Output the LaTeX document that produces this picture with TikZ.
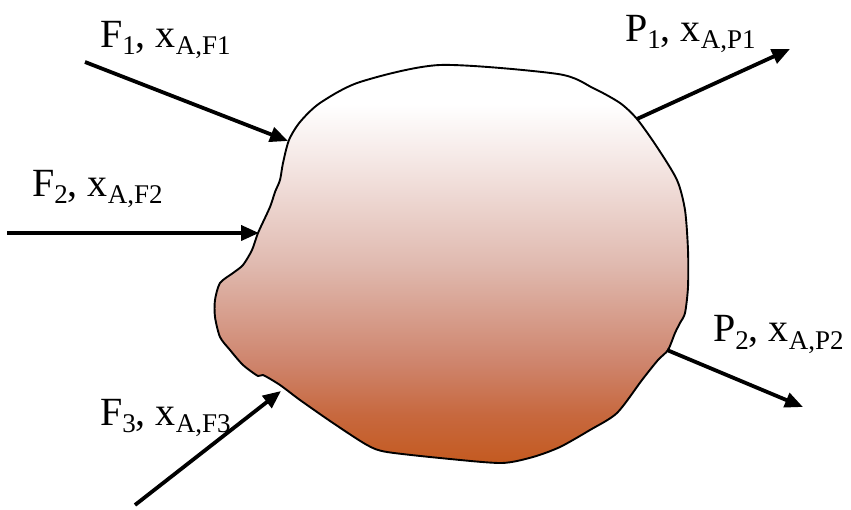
\documentclass[tikz,border=0pt]{standalone}
\usepackage{fontspec}
\setmainfont{Liberation Serif}
\usepackage{tikz}
\usetikzlibrary{arrows.meta}
\usepackage{xcolor}
\definecolor{rust}{RGB}{196,90,32}
\definecolor{rustlight}{RGB}{199,104,62}
\definecolor{salmon}{RGB}{206,132,108}
\definecolor{rose}{RGB}{224,186,176}
\definecolor{blush}{RGB}{244,230,227}
\pgfdeclareverticalshading{unitfade}{100bp}{color(0bp)=(rust); color(25bp)=(rust);
  color(31bp)=(rustlight); color(37.5bp)=(salmon); color(50bp)=(rose);
  color(62.5bp)=(blush); color(70bp)=(white); color(100bp)=(white)}
\newcommand{\lowsub}[1]{\raisebox{-7pt}{\fontsize{27}{27}\selectfont #1}}
\tikzset{
  stream/.style={-{Triangle[length=18pt,width=15pt]},line width=3.8pt,draw=black},
  blob/.style={draw=black,line width=1.9pt,shading=unitfade},
  tag/.style={anchor=base west,inner sep=0pt,font=\fontsize{40}{44}\selectfont}
}
\begin{document}
\begin{tikzpicture}[x=1pt,y=-1pt]
  \useasboundingbox (0,0) rectangle (851,510);
  % unit
  \draw[blob] plot[smooth cycle,tension=0.45] coordinates {
    (289,140) (300,122) (320,103) (360,82) (440,65) (558,74) (593,88)
    (620,103) (637,119) (657,147) (677,180) (685,210) (688,250) (688,287)
    (685,313) (680,323) (675,333) (668,350) (658,360) (642,380) (617,413)
    (590,430) (560,447) (533,457) (502,463) (450,459) (387,452) (367,445)
    (333,423) (300,400) (280,385) (263,375) (258,376) (243,365) (230,350)
    (220,337) (215,317) (215,300) (220,283) (233,273) (243,265) (252,250)
    (258,233) (270,207) (275,192) (280,180) (283,163)};
  % ends of the streams
  \coordinate (f1s) at (85,62);   \coordinate (f1e) at (288,141);
  \coordinate (f2s) at (7,233);   \coordinate (f2e) at (259,233);
  \coordinate (f3s) at (135,505); \coordinate (f3e) at (281,391);
  \coordinate (p1s) at (637,119); \coordinate (p1e) at (790,49);
  \coordinate (p2s) at (667,350); \coordinate (p2e) at (803,407);
  \draw[stream] (f1s) -- (f1e);
  \draw[stream] (f2s) -- (f2e);
  \draw[stream] (f3s) -- (f3e);
  \draw[stream] (p1s) -- (p1e);
  \draw[stream] (p2s) -- (p2e);
  % labels
  \node[tag] (f1) at (100,48)  {F\lowsub{1}, x\lowsub{A,F1}};
  \node[tag] (f2) at (32,197)  {F\lowsub{2}, x\lowsub{A,F2}};
  \node[tag] (f3) at (100,425) {F\lowsub{3}, x\lowsub{A,F3}};
  \node[tag] (p1) at (625,42)  {P\lowsub{1}, x\lowsub{A,P1}};
  \node[tag] (p2) at (713,342) {P\lowsub{2}, x\lowsub{A,P2}};
\end{tikzpicture}
\end{document}
